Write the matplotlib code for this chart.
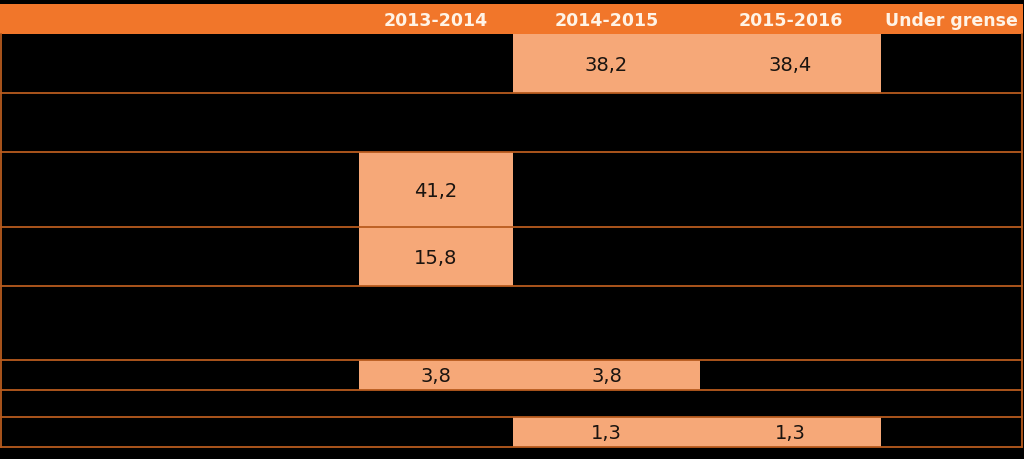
import matplotlib.pyplot as plt
from matplotlib.patches import Rectangle

# table content
headers = ["2013-2014", "2014-2015", "2015-2016", "Under grense"]
row_values = [
    [None, 38.2, 38.4, None],
    [None, None, None, None],
    [41.2, None, None, None],
    [15.8, None, None, None],
    [None, None, None, None],
    [3.8, 3.8, None, None],
    [None, None, None, None],
    [None, 1.3, 1.3, None],
]

# layout (pixels)
col_edges = [1, 359, 513, 700, 881, 1022]
header_top, header_bottom = 5, 35
row_edges = [35, 94, 153, 228, 287, 361, 391, 418, 448]

orange = '#F1762A'
light = '#F6A878'
line_col = '#B95B1E'

fig = plt.figure(figsize=(10.24, 4.6), dpi=100, facecolor='black')
ax = fig.add_axes([0, 0, 1, 1])
ax.set_facecolor('black')
ax.set_xlim(0, 1024)
ax.set_ylim(460, 0)
ax.axis('off')

# header band
ax.add_patch(Rectangle((col_edges[0] - 1, header_top), col_edges[-1] - col_edges[0] + 2,
                       header_bottom - header_top, color=orange, lw=0))
for i, h in enumerate(headers):
    xc = (col_edges[i + 1] + col_edges[i + 2]) / 2
    ax.text(xc, (header_top + header_bottom) / 2 + 1, h, ha='center', va='center',
            color='#FFF3E6', fontsize=12.5, fontweight='bold', family='DejaVu Sans')

# shaded value cells
for r, vals in enumerate(row_values):
    y0, y1 = row_edges[r], row_edges[r + 1]
    for c, v in enumerate(vals):
        if v is None:
            continue
        x0, x1 = col_edges[c + 1], col_edges[c + 2]
        ax.add_patch(Rectangle((x0, y0), x1 - x0, y1 - y0, color=light, lw=0))
        ax.text((x0 + x1) / 2, (y0 + y1) / 2 + 1, f"{v:.1f}".replace('.', ','),
                ha='center', va='center', color='#1A1410', fontsize=14,
                family='DejaVu Sans')

# row separators and outer borders
for y in row_edges[1:]:
    ax.plot([col_edges[0], col_edges[-1]], [y, y], color=line_col, lw=1.3)
ax.plot([col_edges[0], col_edges[0]], [header_bottom, row_edges[-1]], color=line_col, lw=1.3)
ax.plot([col_edges[-1], col_edges[-1]], [header_bottom, row_edges[-1]], color=line_col, lw=1.3)

fig.savefig('out.png', dpi=100, facecolor='black')
